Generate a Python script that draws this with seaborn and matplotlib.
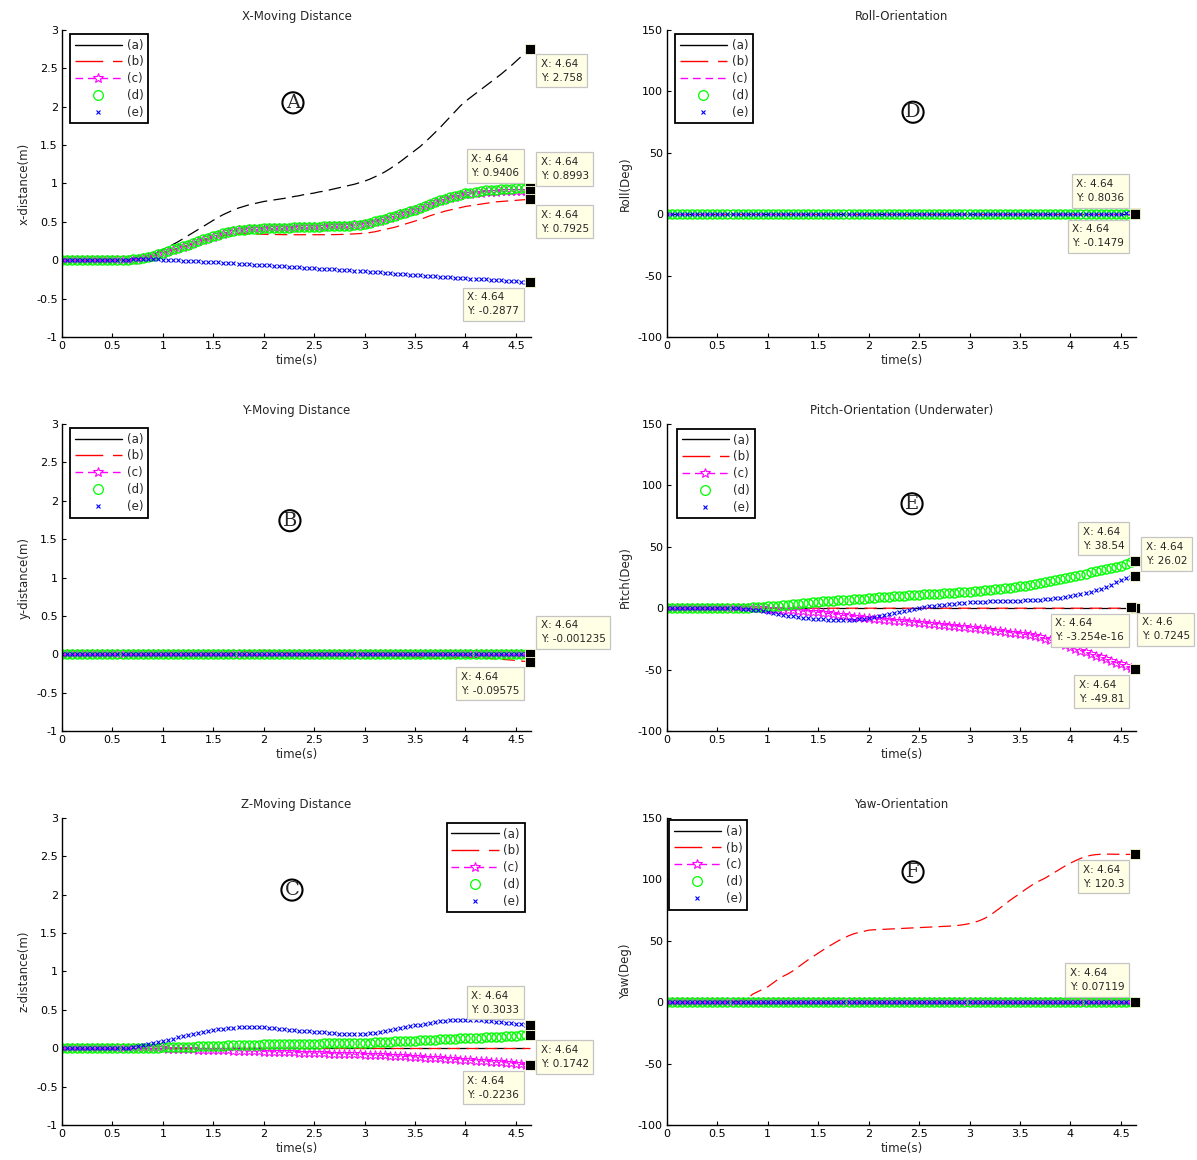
import matplotlib
matplotlib.use('Agg')
import matplotlib.pyplot as plt
from matplotlib.lines import Line2D
from matplotlib.ticker import FuncFormatter, MultipleLocator
import seaborn as sns

# --- sample times (s), one row = 0.5 s ---
TIME = [
    0.00, 0.05, 0.10, 0.15, 0.20, 0.25, 0.30, 0.35, 0.40, 0.45,
    0.50, 0.55, 0.60, 0.65, 0.70, 0.75, 0.80, 0.85, 0.90, 0.95,
    1.00, 1.05, 1.10, 1.15, 1.20, 1.25, 1.30, 1.35, 1.40, 1.45,
    1.50, 1.55, 1.60, 1.65, 1.70, 1.75, 1.80, 1.85, 1.90, 1.95,
    2.00, 2.05, 2.10, 2.15, 2.20, 2.25, 2.30, 2.35, 2.40, 2.45,
    2.50, 2.55, 2.60, 2.65, 2.70, 2.75, 2.80, 2.85, 2.90, 2.95,
    3.00, 3.05, 3.10, 3.15, 3.20, 3.25, 3.30, 3.35, 3.40, 3.45,
    3.50, 3.55, 3.60, 3.65, 3.70, 3.75, 3.80, 3.85, 3.90, 3.95,
    4.00, 4.05, 4.10, 4.15, 4.20, 4.25, 4.30, 4.35, 4.40, 4.45,
    4.50, 4.55, 4.60, 4.64]
N = len(TIME)

# --- (A) x-distance (m) ---
A_A = [0, 0, 0, 0, 0, 0, 0, 0, 0, 0,
       0, 0, 0, 0.002, 0.008, 0.018, 0.032, 0.05, 0.075, 0.105,
       0.14, 0.17, 0.205, 0.24, 0.28, 0.32, 0.36, 0.40, 0.44, 0.48,
       0.52, 0.56, 0.595, 0.625, 0.655, 0.68, 0.70, 0.72, 0.735, 0.75,
       0.765, 0.775, 0.785, 0.795, 0.805, 0.815, 0.83, 0.84, 0.855, 0.865,
       0.875, 0.89, 0.90, 0.915, 0.93, 0.945, 0.96, 0.975, 0.99, 1.01,
       1.03, 1.055, 1.085, 1.115, 1.15, 1.19, 1.235, 1.28, 1.33, 1.38,
       1.43, 1.48, 1.54, 1.60, 1.665, 1.73, 1.80, 1.87, 1.94, 2.01,
       2.07, 2.12, 2.17, 2.22, 2.27, 2.32, 2.37, 2.42, 2.475, 2.53,
       2.59, 2.65, 2.71, 2.758]
A_B = [0, 0, 0, 0, 0, 0, 0, 0, 0, 0,
       0, 0, 0, 0.002, 0.008, 0.015, 0.027, 0.04, 0.055, 0.075,
       0.095, 0.115, 0.135, 0.155, 0.175, 0.195, 0.215, 0.235, 0.255, 0.275,
       0.29, 0.305, 0.32, 0.33, 0.34, 0.343, 0.345, 0.345, 0.343, 0.34,
       0.338, 0.336, 0.335, 0.334, 0.333, 0.332, 0.332, 0.332, 0.332, 0.332,
       0.332, 0.332, 0.332, 0.333, 0.334, 0.335, 0.337, 0.34, 0.343, 0.347,
       0.352, 0.36, 0.37, 0.385, 0.40, 0.415, 0.43, 0.45, 0.47, 0.49,
       0.51, 0.53, 0.555, 0.58, 0.60, 0.62, 0.64, 0.655, 0.67, 0.685,
       0.70, 0.71, 0.72, 0.73, 0.74, 0.75, 0.76, 0.765, 0.77, 0.775,
       0.78, 0.785, 0.79, 0.7925]
A_C = [0, 0, 0, 0, 0, 0, 0, 0, 0, 0,
       0, 0, 0, 0.003, 0.009, 0.017, 0.028, 0.043, 0.058, 0.078,
       0.098, 0.118, 0.138, 0.158, 0.178, 0.198, 0.222, 0.246, 0.267, 0.287,
       0.307, 0.327, 0.347, 0.366, 0.381, 0.392, 0.398, 0.403, 0.408, 0.411,
       0.413, 0.416, 0.418, 0.42, 0.422, 0.424, 0.426, 0.428, 0.43, 0.432,
       0.434, 0.436, 0.438, 0.44, 0.442, 0.444, 0.446, 0.45, 0.456, 0.463,
       0.472, 0.487, 0.502, 0.517, 0.536, 0.556, 0.576, 0.596, 0.616, 0.636,
       0.656, 0.68, 0.705, 0.73, 0.752, 0.772, 0.792, 0.81, 0.828, 0.845,
       0.858, 0.868, 0.876, 0.882, 0.887, 0.891, 0.894, 0.896, 0.898, 0.899,
       0.9, 0.9, 0.9, 0.8993]
A_D = [0, 0, 0, 0, 0, 0, 0, 0, 0, 0,
       0, 0, 0, 0.003, 0.01, 0.018, 0.03, 0.045, 0.06, 0.08,
       0.10, 0.12, 0.14, 0.16, 0.18, 0.20, 0.225, 0.25, 0.27, 0.29,
       0.31, 0.33, 0.35, 0.37, 0.385, 0.395, 0.40, 0.405, 0.41, 0.413,
       0.415, 0.418, 0.42, 0.422, 0.424, 0.426, 0.428, 0.43, 0.432, 0.434,
       0.436, 0.438, 0.44, 0.442, 0.444, 0.446, 0.448, 0.452, 0.458, 0.465,
       0.475, 0.49, 0.505, 0.52, 0.54, 0.56, 0.58, 0.60, 0.62, 0.64,
       0.66, 0.685, 0.71, 0.735, 0.76, 0.78, 0.80, 0.82, 0.84, 0.855,
       0.87, 0.88, 0.89, 0.90, 0.91, 0.915, 0.92, 0.925, 0.93, 0.933,
       0.936, 0.938, 0.94, 0.9406]
A_E = [0, 0, 0, 0, 0, 0, 0, 0, 0, 0,
       0.002, 0.004, 0.006, 0.008, 0.01, 0.012, 0.013, 0.013, 0.012, 0.01,
       0.008, 0.005, 0.002, -0.002, -0.006, -0.01, -0.013, -0.016, -0.019, -0.022,
       -0.025, -0.028, -0.032, -0.036, -0.04, -0.044, -0.048, -0.052, -0.056, -0.06,
       -0.064, -0.068, -0.072, -0.076, -0.08, -0.084, -0.088, -0.092, -0.096, -0.10,
       -0.104, -0.108, -0.112, -0.116, -0.12, -0.124, -0.128, -0.132, -0.136, -0.14,
       -0.145, -0.15, -0.155, -0.16, -0.165, -0.17, -0.175, -0.18, -0.185, -0.19,
       -0.195, -0.199, -0.203, -0.207, -0.211, -0.215, -0.219, -0.223, -0.227, -0.231,
       -0.235, -0.239, -0.243, -0.247, -0.251, -0.255, -0.259, -0.263, -0.267, -0.271,
       -0.275, -0.279, -0.284, -0.2877]

# --- (B) y-distance (m) ---
B_A = [0.0] * N
B_B = [0, 0, 0, 0, 0, 0, 0, 0, 0, 0,
       0, 0, 0, 0, 0, 0, 0, 0, 0, 0,
       0, 0, 0, 0, 0, 0, 0, 0, 0, 0,
       0, 0, 0, 0, 0.005, 0.015, 0.03, 0.045, 0.05, 0.05,
       0.05, 0.048, 0.04, 0.03, 0.02, 0.012, 0.006, 0.002, 0, 0,
       0, 0, 0, 0, 0, 0, 0, 0, 0, 0,
       0, 0, 0, 0, -0.005, -0.01, -0.015, -0.02, -0.025, -0.03,
       -0.035, -0.04, -0.045, -0.05, -0.055, -0.055, -0.055, -0.05, -0.045, -0.04,
       -0.038, -0.038, -0.04, -0.045, -0.05, -0.055, -0.06, -0.065, -0.07, -0.075,
       -0.08, -0.088, -0.094, -0.09575]
B_C = [0.0] * N
B_D = [0.0] * N
B_E = [0.0] * (N - 1) + [-0.001235]

# --- (C) z-distance (m) ---
C_A = [0.0] * N
C_B = [0.0] * N
C_C = [0, 0, 0, 0, 0, 0, 0, 0, 0, 0,
       0, 0, 0, 0, 0, 0, 0, 0, -0.001, -0.002,
       -0.003, -0.005, -0.007, -0.009, -0.011, -0.013, -0.015, -0.017, -0.019, -0.021,
       -0.023, -0.025, -0.027, -0.029, -0.031, -0.033, -0.035, -0.037, -0.039, -0.041,
       -0.043, -0.045, -0.047, -0.049, -0.051, -0.053, -0.055, -0.057, -0.059, -0.061,
       -0.063, -0.065, -0.067, -0.069, -0.071, -0.073, -0.075, -0.077, -0.079, -0.081,
       -0.083, -0.086, -0.089, -0.092, -0.095, -0.098, -0.101, -0.104, -0.107, -0.11,
       -0.114, -0.118, -0.122, -0.126, -0.13, -0.134, -0.138, -0.142, -0.146, -0.15,
       -0.154, -0.158, -0.162, -0.166, -0.17, -0.175, -0.18, -0.185, -0.19, -0.195,
       -0.202, -0.209, -0.217, -0.2236]
C_D = [0, 0, 0, 0, 0, 0, 0, 0, 0, 0,
       0, 0, 0, 0, 0, 0, 0.002, 0.004, 0.006, 0.008,
       0.01, 0.012, 0.014, 0.016, 0.018, 0.02, 0.022, 0.024, 0.026, 0.028,
       0.03, 0.032, 0.034, 0.036, 0.038, 0.04, 0.042, 0.044, 0.046, 0.048,
       0.05, 0.051, 0.052, 0.053, 0.054, 0.055, 0.056, 0.057, 0.058, 0.059,
       0.06, 0.061, 0.062, 0.063, 0.064, 0.065, 0.066, 0.067, 0.068, 0.069,
       0.07, 0.073, 0.076, 0.079, 0.082, 0.085, 0.088, 0.091, 0.094, 0.097,
       0.10, 0.103, 0.106, 0.109, 0.112, 0.115, 0.118, 0.121, 0.124, 0.127,
       0.13, 0.133, 0.136, 0.139, 0.142, 0.145, 0.148, 0.151, 0.155, 0.159,
       0.163, 0.167, 0.171, 0.1742]
C_E = [0, 0, 0, 0, 0, 0, 0, 0, 0, 0,
       0, 0, 0.003, 0.008, 0.015, 0.025, 0.037, 0.05, 0.065, 0.08,
       0.095, 0.11, 0.125, 0.14, 0.155, 0.17, 0.185, 0.20, 0.213, 0.225,
       0.236, 0.246, 0.255, 0.262, 0.268, 0.272, 0.275, 0.276, 0.275, 0.273,
       0.27, 0.265, 0.26, 0.254, 0.248, 0.242, 0.236, 0.23, 0.225, 0.22,
       0.215, 0.21, 0.205, 0.2, 0.195, 0.191, 0.188, 0.186, 0.185, 0.185,
       0.187, 0.192, 0.2, 0.21, 0.222, 0.235, 0.248, 0.26, 0.272, 0.284,
       0.296, 0.308, 0.32, 0.332, 0.342, 0.35, 0.357, 0.362, 0.366, 0.368,
       0.368, 0.367, 0.365, 0.362, 0.358, 0.353, 0.347, 0.34, 0.333, 0.326,
       0.318, 0.311, 0.306, 0.3033]

# --- (D) roll (deg) ---
D_A = [0.0] * N
D_B = [0.0] * N
D_C = [0.0] * N
D_D = [0.0] * (N - 1) + [-0.1479]
D_E = [0.0] * (N - 4) + [0.5, 0.65, 0.75, 0.8036]

# --- (E) pitch (deg) ---
E_A = [0.0] * (N - 1) + [-3.254e-16]
E_B = [0.0] * (N - 2) + [0.7245, 0.7245]
E_C = [0, 0, 0, 0, 0, 0, 0, 0, 0, 0,
       0, 0, 0, 0, 0, 0, 0, 0, -0.1, -0.2,
       -0.4, -0.6, -0.9, -1.2, -1.5, -1.8, -2.1, -2.4, -2.7, -3.0,
       -3.3, -3.8, -4.3, -4.8, -5.3, -5.8, -6.3, -6.8, -7.3, -7.8,
       -8.2, -8.6, -9.0, -9.4, -9.8, -10.1, -10.5, -10.8, -11.1, -11.4,
       -11.7, -12.1, -12.5, -12.9, -13.3, -13.7, -14.1, -14.5, -15.0, -15.4,
       -15.8, -16.3, -16.8, -17.3, -17.8, -18.3, -18.8, -19.3, -19.8, -20.3,
       -20.8, -21.4, -22.1, -22.9, -23.8, -24.8, -26.0, -27.3, -28.7, -30.2,
       -31.7, -33.1, -34.5, -35.9, -37.3, -38.7, -40.1, -41.5, -42.9, -44.3,
       -45.7, -47.0, -48.6, -49.81]
E_D = [0, 0, 0, 0, 0, 0, 0, 0, 0, 0,
       0, 0, 0, 0, 0.1, 0.2, 0.4, 0.6, 0.9, 1.2,
       1.5, 1.8, 2.1, 2.5, 2.9, 3.3, 3.7, 4.1, 4.5, 4.9,
       5.2, 5.5, 5.8, 6.1, 6.4, 6.7, 7.0, 7.3, 7.6, 7.9,
       8.2, 8.5, 8.8, 9.1, 9.4, 9.7, 10.0, 10.2, 10.5, 10.7,
       10.9, 11.2, 11.4, 11.7, 11.9, 12.2, 12.4, 12.7, 13.0, 13.3,
       13.6, 13.9, 14.3, 14.7, 15.1, 15.5, 15.9, 16.3, 16.8, 17.3,
       17.8, 18.4, 19.0, 19.7, 20.4, 21.2, 22.0, 22.8, 23.7, 24.6,
       25.5, 26.4, 27.3, 28.2, 29.1, 30.0, 30.9, 31.8, 32.7, 33.6,
       34.5, 35.8, 37.3, 38.54]
E_E = [0, 0, 0, 0, 0, 0, 0, 0, 0, 0,
       0, 0, 0, 0, 0, -0.3, -0.7, -1.2, -1.8, -2.5,
       -3.2, -3.9, -4.6, -5.3, -6.0, -6.6, -7.1, -7.6, -8.0, -8.4,
       -8.7, -9.0, -9.3, -9.5, -9.6, -9.6, -9.5, -9.3, -9.0, -8.6,
       -8.1, -7.4, -6.6, -5.7, -4.8, -3.9, -3.0, -2.1, -1.3, -0.6,
       0.1, 0.8, 1.4, 2.0, 2.5, 3.0, 3.4, 3.8, 4.2, 4.5,
       4.8, 5.0, 5.2, 5.4, 5.5, 5.6, 5.7, 5.8, 5.9, 6.0,
       6.1, 6.3, 6.5, 6.7, 7.0, 7.3, 7.7, 8.2, 8.7, 9.3,
       10.0, 10.8, 11.6, 12.5, 13.5, 14.6, 16.0, 17.5, 19.2, 21.0,
       22.8, 24.2, 25.3, 26.02]

# --- (F) yaw (deg) ---
F_A = [0.0] * N
F_B = [0, 0, 0, 0, 0, 0, 0, 0, 0, 0,
       0, 0, 0, 0, 0.5, 1.5, 3.0, 6.5, 8.5, 10.5,
       12.5, 15.5, 18.5, 21.0, 23.0, 25.5, 28.5, 31.5, 34.5, 37.2,
       39.9, 42.6, 45.2, 47.6, 50.0, 52.0, 54.0, 55.6, 56.7, 57.6,
       58.6, 58.9, 59.1, 59.3, 59.5, 59.7, 59.9, 60.1, 60.3, 60.5,
       60.7, 60.9, 61.1, 61.3, 61.5, 61.7, 61.9, 62.2, 62.6, 63.2,
       64.0, 65.0, 66.4, 68.2, 70.5, 73.5, 76.5, 79.7, 82.8, 85.7,
       88.5, 91.5, 94.3, 97.0, 99.0, 101.0, 103.5, 106.0, 108.5, 111.0,
       113.2, 115.2, 117.0, 118.5, 119.5, 120.1, 120.4, 120.5, 120.5, 120.4,
       120.4, 120.3, 120.3, 120.3]
F_C = [0.0] * N
F_D = [0.0] * N
F_E = [0.0] * (N - 1) + [0.07119]

SERIES = [[A_A, A_B, A_C, A_D, A_E], [B_A, B_B, B_C, B_D, B_E],
          [C_A, C_B, C_C, C_D, C_E], [D_A, D_B, D_C, D_D, D_E],
          [E_A, E_B, E_C, E_D, E_E], [F_A, F_B, F_C, F_D, F_E]]
LABELS = ['(a)', '(b)', '(c)', '(d)', '(e)']
TITLES = ['X-Moving Distance', 'Y-Moving Distance', 'Z-Moving Distance',
          'Roll-Orientation', 'Pitch-Orientation (Underwater)', 'Yaw-Orientation']
YLABELS = ['x-distance(m)', 'y-distance(m)', 'z-distance(m)',
           'Roll(Deg)', 'Pitch(Deg)', 'Yaw(Deg)']
LETTERS = ['A', 'B', 'C', 'D', 'E', 'F']

# data tips: (x, y, text)
TIPS = [
    [(4.64, 2.758, 'X: 4.64\nY: 2.758'), (4.64, 0.9406, 'X: 4.64\nY: 0.9406'),
     (4.64, 0.8993, 'X: 4.64\nY: 0.8993'), (4.64, 0.7925, 'X: 4.64\nY: 0.7925'),
     (4.64, -0.2877, 'X: 4.64\nY: -0.2877')],
    [(4.64, -0.001235, 'X: 4.64\nY: -0.001235'), (4.64, -0.09575, 'X: 4.64\nY: -0.09575')],
    [(4.64, 0.3033, 'X: 4.64\nY: 0.3033'), (4.64, 0.1742, 'X: 4.64\nY: 0.1742'),
     (4.64, -0.2236, 'X: 4.64\nY: -0.2236')],
    [(4.64, 0.8036, 'X: 4.64\nY: 0.8036'), (4.64, -0.1479, 'X: 4.64\nY: -0.1479')],
    [(4.64, 38.54, 'X: 4.64\nY: 38.54'), (4.64, 26.02, 'X: 4.64\nY: 26.02'),
     (4.64, -3.254e-16, 'X: 4.64\nY: -3.254e-16'), (4.6, 0.7245, 'X: 4.6\nY: 0.7245'),
     (4.64, -49.81, 'X: 4.64\nY: -49.81')],
    [(4.64, 120.3, 'X: 4.64\nY: 120.3'), (4.64, 0.07119, 'X: 4.64\nY: 0.07119')],
]
# where each tip box sits relative to its point: (above/below, left/right)
TIP_SIDES = [['br', 'al', 'ar', 'br', 'bl'], ['ar', 'bl'], ['al', 'br', 'bl'],
             ['al', 'bl'], ['al', 'ar', 'bl', 'br', 'bl'], ['bl', 'al']]

# --- style ---
sns.set_style('white')
plt.rcParams['font.family'] = ['DejaVu Sans']
plt.rcParams['axes.edgecolor'] = 'black'
plt.rcParams['axes.linewidth'] = 1.0

RED, MAG, GRN, BLU = '#FF0000', '#FF00FF', '#00FF00', '#0000FF'

fig = plt.figure(figsize=(11.97, 11.60), dpi=100)
LEFTS = [0.0518, 0.0518, 0.0518, 0.5572, 0.5572, 0.5572]
BOTTOMS = [0.7095, 0.3698, 0.0302, 0.7095, 0.3698, 0.0302]
LETTER_XY = [(2.29, 2.05), (2.26, 1.74), (2.28, 2.06), (2.44, 83), (2.43, 85), (2.44, 106)]
LEG_POS = [('upper left', (0.017, 0.987)), ('upper left', (0.017, 0.987)),
           ('upper right', (0.987, 0.984)), ('upper left', (0.017, 0.987)),
           ('upper left', (0.021, 0.984)), ('upper left', (0.004, 0.993))]

fmt = FuncFormatter(lambda v, p: f'{round(v, 6) + 0.0:g}')

for i in range(6):
    ax = fig.add_axes([LEFTS[i], BOTTOMS[i], 0.3918, 0.2647])
    sa, sb, sc, sd, se = SERIES[i]
    star = i != 3

    sns.lineplot(x=TIME, y=sa, ax=ax, color='black', lw=0.9, linestyle=(0, (10, 5)))
    sns.lineplot(x=TIME, y=sb, ax=ax, color=RED, lw=0.9, linestyle=(7, (10, 5)))
    sns.lineplot(x=TIME, y=sc, ax=ax, color=MAG, lw=0.8, linestyle=(0, (4.5, 3)),
                 marker='*' if star else None, ms=7, mfc='none', mec=MAG, mew=0.7)
    sns.lineplot(x=TIME, y=sd, ax=ax, color=GRN, linestyle='none',
                 marker='o', ms=6.5, mfc='none', mec=GRN, mew=1.0)
    sns.lineplot(x=TIME, y=se, ax=ax, color=BLU, linestyle='none',
                 marker='x', ms=3.5, mec=BLU, mew=0.8)

    ax.set_xlim(0, 4.65)
    if i < 3:
        ax.set_ylim(-1, 3)
        ax.yaxis.set_major_locator(MultipleLocator(0.5))
    else:
        ax.set_ylim(-100, 150)
        ax.yaxis.set_major_locator(MultipleLocator(50))
    ax.xaxis.set_major_locator(MultipleLocator(0.5))
    ax.xaxis.set_major_formatter(fmt)
    ax.yaxis.set_major_formatter(fmt)
    sns.despine(ax=ax)
    ax.tick_params(direction='in', length=3, width=0.8, labelsize=8, pad=3,
                   colors='black', left=True, bottom=True)
    ax.set_title(TITLES[i], fontsize=8.5, pad=7)
    ax.set_xlabel('time(s)', fontsize=8.5, labelpad=2)
    ax.set_ylabel(YLABELS[i], fontsize=8.5, labelpad=4)

    # legend
    handles = [
        Line2D([], [], color='black', lw=1),
        Line2D([], [], color=RED, lw=1, linestyle=(0, (20, 7))),
        Line2D([], [], color=MAG, lw=1, linestyle=(0, (5.5, 3.5)),
               marker='*' if star else None, ms=7, mfc='none', mec=MAG, mew=0.8),
        Line2D([], [], color=GRN, linestyle='none', marker='o', ms=7, mfc='none', mew=0.9),
        Line2D([], [], color=BLU, linestyle='none', marker='x', ms=3.5, mew=0.8),
    ]
    loc, anchor = LEG_POS[i]
    leg = ax.legend(handles, LABELS, loc=loc, bbox_to_anchor=anchor, borderaxespad=0,
                    fontsize=8.5, handlelength=4.0, handletextpad=0.4, labelspacing=0.32,
                    borderpad=0.4, fancybox=False, framealpha=1, edgecolor='black')
    leg.get_frame().set_linewidth(1.3)

    # circled panel letter
    lx, ly = LETTER_XY[i]
    ax.text(lx, ly, LETTERS[i], fontsize=14, family='DejaVu Serif', ha='center', va='center',
            bbox=dict(boxstyle='circle,pad=0.08', fc='white', ec='black', lw=1.5))

    # data tips
    for (tx, ty, txt), side in zip(TIPS[i], TIP_SIDES[i]):
        ax.plot([tx], [ty], marker='s', ms=6.5, color='black', mec='#FFFFD8', mew=0.6,
                clip_on=False, zorder=10)
        dx = 7.7 if side[1] == 'r' else -7.7
        dy = -7.3 if side[0] == 'b' else 7.3
        ax.annotate(txt, xy=(tx, ty), xytext=(dx, dy), textcoords='offset points',
                    ha='left' if side[1] == 'r' else 'right',
                    va='top' if side[0] == 'b' else 'bottom', multialignment='left',
                    fontsize=7.5, linespacing=1.5, annotation_clip=False, zorder=11,
                    bbox=dict(boxstyle='square,pad=0.45', fc='#FFFFE6', ec='#C4C4C4', lw=0.9))

fig.savefig('out.png', dpi=100)
